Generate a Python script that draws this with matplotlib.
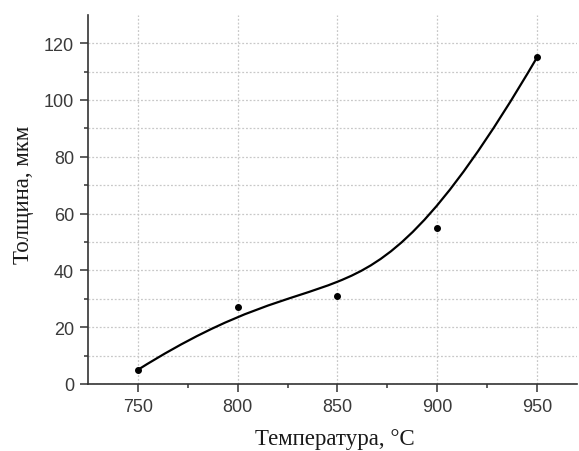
import matplotlib
matplotlib.use("Agg")
import matplotlib.pyplot as plt
import numpy as np
from matplotlib.path import Path
from matplotlib.patches import PathPatch
from matplotlib.ticker import FixedLocator

# Measured thickness at each temperature
temperature = [750, 800, 850, 900, 950]
thickness = [5, 27, 31, 55, 115]

x_ticks = [750, 800, 850, 900, 950]
y_ticks = [0, 20, 40, 60, 80, 100, 120]

W, H = 579, 452
fig = plt.figure(figsize=(W / 100, H / 100), dpi=100)
ax = fig.add_axes([88 / W, 67 / H, (577 - 88) / W, (436.3 - 67) / H])

# Smooth B-spline connection: the measured points act as control points of a
# clamped cubic B-spline, converted into two cubic Bezier segments.
P = np.column_stack([temperature, thickness]).astype(float)
mid = (P[1] + 2 * P[2] + P[3]) / 4
verts = [P[0], P[1], (P[1] + P[2]) / 2, mid,
         (P[2] + P[3]) / 2, P[3], P[4]]
codes = [Path.MOVETO] + [Path.CURVE4] * 6
ax.add_patch(PathPatch(Path(verts, codes), facecolor="none",
                       edgecolor="black", lw=1.6, zorder=3))

ax.plot(temperature, thickness, "o", color="black", ms=4, zorder=4)

ax.set_xlim(725, 970)
ax.set_ylim(0, 130)
ax.xaxis.set_major_locator(FixedLocator(x_ticks))
ax.xaxis.set_minor_locator(FixedLocator([775, 825, 875, 925]))
ax.yaxis.set_major_locator(FixedLocator(y_ticks))
ax.yaxis.set_minor_locator(FixedLocator([10, 30, 50, 70, 90, 110]))

ax.grid(axis="x", which="major", color="#c8c8c8", ls=(0, (1.5, 1.5)), lw=0.9)
ax.grid(axis="y", which="both", color="#c8c8c8", ls=(0, (1.5, 1.5)), lw=0.9)
ax.set_axisbelow(True)

for side in ("top", "right"):
    ax.spines[side].set_visible(False)
for side in ("left", "bottom"):
    ax.spines[side].set_color("#333333")
    ax.spines[side].set_linewidth(1.2)

ax.tick_params(which="major", length=6, width=1.1, color="#333333",
               labelsize=13, labelcolor="#3a3a3a", pad=4)
ax.tick_params(which="minor", length=3, width=1.1, color="#333333")
for lab in ax.get_xticklabels() + ax.get_yticklabels():
    lab.set_family(["Liberation Sans", "DejaVu Sans"])

ax.set_xlabel("Температура, °C", family=["Liberation Serif", "DejaVu Serif"],
              fontsize=16.5, color="#1a1a1a")
ax.set_ylabel("Толщина, мкм", family=["Liberation Serif", "DejaVu Serif"],
              fontsize=16.5, color="#1a1a1a")
ax.xaxis.set_label_coords(((250 + 420) / 2 - 88) / (577 - 88), -(440 - 385) / (436.3 - 67) ,)
ax.yaxis.set_label_coords(-(88 - 23) / (577 - 88), (385 - 195) / (436.3 - 67))
ax.xaxis.label.set_va("center")
ax.yaxis.label.set_va("center")

fig.savefig("out.png", dpi=100)
